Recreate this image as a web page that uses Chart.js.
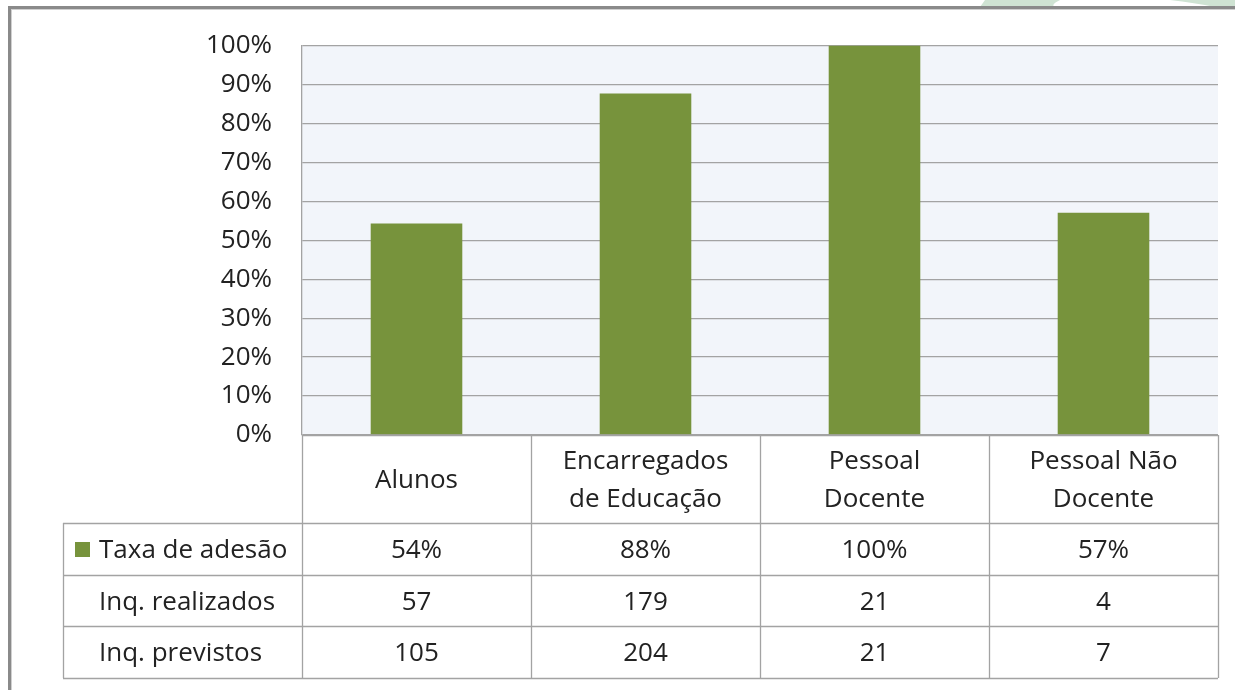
<!DOCTYPE html>
<html>
<head>
<meta charset="utf-8">
<script src="https://cdn.jsdelivr.net/npm/chart.js@4"></script>
<style>
html,body{margin:0;padding:0;background:#fff;}
#wrap{position:relative;width:1235px;height:690px;}
canvas{display:block;}
</style>
</head>
<body>
<div id="wrap"><canvas id="c" width="1235" height="690"></canvas></div>
<script>
const categories = [["Alunos"], ["Encarregados", "de Educação"], ["Pessoal", "Docente"], ["Pessoal Não", "Docente"]];
const taxaAdesao = [54.3, 87.7, 100, 57.1];
const taxaLabels = ["54%", "88%", "100%", "57%"];
const inqRealizados = [57, 179, 21, 4];
const inqPrevistos = [105, 204, 21, 7];
const rowNames = ["Taxa de adesão", "Inq. realizados", "Inq. previstos"];
const yTicks = [0, 10, 20, 30, 40, 50, 60, 70, 80, 90, 100];

const FONT = "'Open Sans', sans-serif";
const FSIZE = 26;
const LINE = "#a3a3a3";
const BAR = "#77933c";
const TXT = "#222222";

const frame = {
  id: 'frame',
  beforeDraw(chart) {
    const ctx = chart.ctx, a = chart.chartArea;
    ctx.save();
    ctx.fillStyle = '#fff';
    ctx.fillRect(0, 0, chart.width, chart.height);
    ctx.fillStyle = '#cfe3d3';
    ctx.beginPath();
    ctx.moveTo(985, 0); ctx.lineTo(1060, 0); ctx.quadraticCurveTo(1050, 5, 1055, 7); ctx.lineTo(980, 7); ctx.closePath(); ctx.fill();
    ctx.beginPath();
    ctx.moveTo(1170, 0); ctx.lineTo(1235, 0); ctx.lineTo(1235, 7); ctx.lineTo(1215, 7); ctx.quadraticCurveTo(1195, 3, 1170, 0); ctx.closePath(); ctx.fill();
    ctx.fillStyle = '#8a8a8a';
    ctx.fillRect(8, 6, 1235 - 8, 3);
    ctx.fillRect(8, 6, 3, 690 - 6);
    ctx.fillStyle = '#d0d0d0';
    ctx.fillRect(11, 9, 1235 - 11, 1);
    ctx.fillRect(11, 9, 1, 690 - 9);
    ctx.fillStyle = '#f2f5fa';
    ctx.fillRect(a.left, a.top, a.right - a.left, a.bottom - a.top);
    ctx.restore();
  },
  afterDraw(chart) {
    const ctx = chart.ctx, a = chart.chartArea, xs = chart.scales.x;
    const n = categories.length;
    const colW = (a.right - a.left) / n;
    const labelBottom = a.bottom + 88;
    const rowH = [52, 51, 52];
    const tableLeft = 63;
    ctx.save();
    ctx.strokeStyle = LINE;
    ctx.lineWidth = 1.3;
    for (let i = 0; i <= n; i++) {
      const x = Math.round(a.left + i * colW) + 0.5;
      ctx.beginPath(); ctx.moveTo(x, a.bottom); ctx.lineTo(x, labelBottom + rowH.reduce((s, v) => s + v, 0)); ctx.stroke();
    }
    let y = labelBottom;
    const ys = [y];
    rowH.forEach(h => { y += h; ys.push(y); });
    ys.forEach(yy => {
      ctx.beginPath(); ctx.moveTo(tableLeft, yy + 0.5); ctx.lineTo(a.right, yy + 0.5); ctx.stroke();
    });
    ctx.beginPath(); ctx.moveTo(tableLeft + 0.5, labelBottom); ctx.lineTo(tableLeft + 0.5, ys[ys.length - 1]); ctx.stroke();
    ctx.beginPath(); ctx.moveTo(a.left, a.bottom + 0.5); ctx.lineTo(a.right, a.bottom + 0.5); ctx.stroke();

    ctx.fillStyle = TXT;
    ctx.font = FSIZE + 'px ' + FONT;
    ctx.textAlign = 'center';
    ctx.textBaseline = 'middle';
    categories.forEach((lines, i) => {
      const cx = xs.getPixelForValue(i);
      const cy = (a.bottom + labelBottom) / 2 + 2;
      const lh = 38;
      lines.forEach((t, j) => {
        ctx.fillText(t, cx, cy + (j - (lines.length - 1) / 2) * lh);
      });
    });
    const rows = [taxaLabels, inqRealizados.map(String), inqPrevistos.map(String)];
    rows.forEach((vals, r) => {
      const cy = (ys[r] + ys[r + 1]) / 2 + 2;
      vals.forEach((v, i) => ctx.fillText(v, xs.getPixelForValue(i), cy));
      ctx.textAlign = 'left';
      ctx.fillText(rowNames[r], 99, cy);
      ctx.textAlign = 'center';
    });
    ctx.fillStyle = BAR;
    ctx.fillRect(75, (ys[0] + ys[1]) / 2 - 7, 15, 15);
    ctx.restore();
  }
};

new Chart(document.getElementById('c'), {
  type: 'bar',
  data: {
    labels: categories.map(l => l.join(' ')),
    datasets: [{
      label: rowNames[0],
      data: taxaAdesao,
      backgroundColor: BAR,
      borderWidth: 0,
      categoryPercentage: 0.8,
      barPercentage: 0.5
    }]
  },
  options: {
    responsive: false,
    animation: false,
    devicePixelRatio: 1,
    layout: { padding: { top: 44, right: 17, bottom: 255, left: 0 } },
    plugins: { legend: { display: false }, tooltip: { enabled: false } },
    scales: {
      x: { display: false, grid: { display: false } },
      y: {
        min: 0, max: 100,
        afterFit(s) { s.width = 302; },
        afterBuildTicks(s) { s.ticks = yTicks.map(v => ({ value: v })); },
        border: { display: true, color: LINE, width: 1.3 },
        grid: { color: LINE, lineWidth: 1.3, drawTicks: false },
        ticks: {
          padding: 30,
          color: TXT,
          font: { family: FONT, size: FSIZE },
          callback: v => v + '%'
        }
      }
    }
  },
  plugins: [frame]
});
</script>
</body>
</html>
